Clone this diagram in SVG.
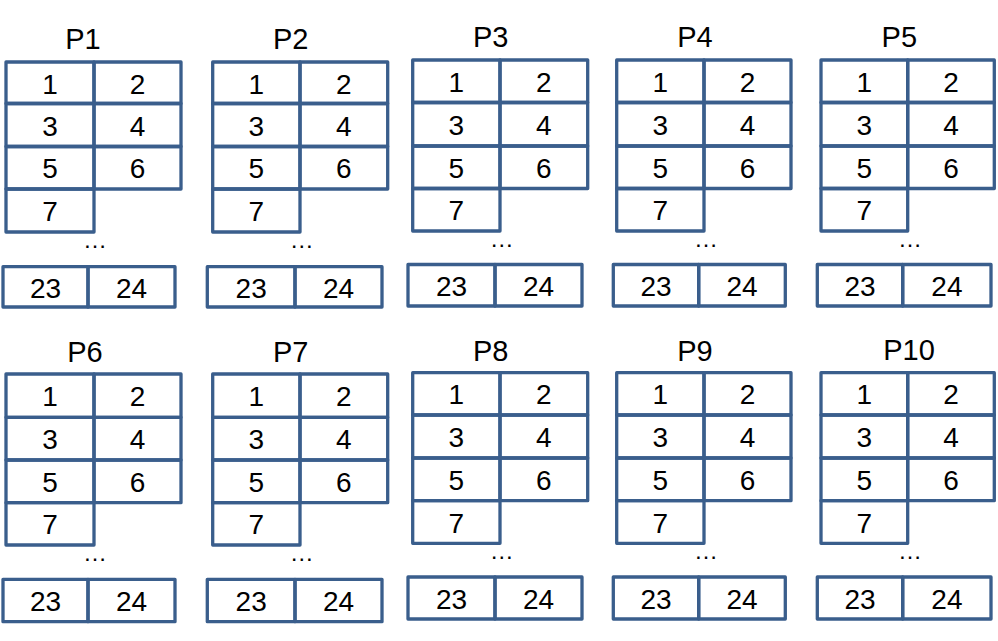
<svg xmlns="http://www.w3.org/2000/svg" width="998" height="641" viewBox="0 0 998 641">
<style>
rect.c{fill:none;stroke:#3A5E8C;stroke-width:3.3;stroke-linejoin:round}
text{font-family:"Liberation Sans",Arial,sans-serif;font-size:28px;fill:#000;text-anchor:middle}
text.t{font-size:29px}
text.d{font-size:24px}
</style>
<rect width="998" height="641" fill="#fff"/>
<g id="P1">
<text class="t" x="83" y="49">P1</text>
<rect class="c" x="6" y="62" width="88" height="41.5"/><rect class="c" x="94" y="62" width="87" height="41.5"/>
<rect class="c" x="6" y="103.5" width="88" height="43"/><rect class="c" x="94" y="103.5" width="87" height="43"/>
<rect class="c" x="6" y="146.5" width="88" height="42.5"/><rect class="c" x="94" y="146.5" width="87" height="42.5"/>
<rect class="c" x="6" y="189" width="88" height="43"/>
<rect class="c" x="3" y="266.7" width="85" height="40.3"/><rect class="c" x="88" y="266.7" width="87" height="40.3"/>
<text x="50" y="93.5">1</text><text x="137.5" y="93.5">2</text>
<text x="50" y="135.5">3</text><text x="137.5" y="135.5">4</text>
<text x="50" y="178.3">5</text><text x="137.5" y="178.3">6</text>
<text x="50" y="221">7</text>
<text class="d" x="95" y="248">…</text>
<text x="45.5" y="297.5">23</text><text x="131.5" y="297.5">24</text>
</g>
<g id="P2">
<text class="t" x="290.7" y="49">P2</text>
<rect class="c" x="212.7" y="62" width="87.3" height="41.5"/><rect class="c" x="300" y="62" width="87.7" height="41.5"/>
<rect class="c" x="212.7" y="103.5" width="87.3" height="43"/><rect class="c" x="300" y="103.5" width="87.7" height="43"/>
<rect class="c" x="212.7" y="146.5" width="87.3" height="42.5"/><rect class="c" x="300" y="146.5" width="87.7" height="42.5"/>
<rect class="c" x="212.7" y="189" width="87.3" height="43"/>
<rect class="c" x="207.3" y="266.7" width="87.7" height="40.3"/><rect class="c" x="295" y="266.7" width="87" height="40.3"/>
<text x="256.4" y="93.5">1</text><text x="343.9" y="93.5">2</text>
<text x="256.4" y="135.5">3</text><text x="343.9" y="135.5">4</text>
<text x="256.4" y="178.3">5</text><text x="343.9" y="178.3">6</text>
<text x="256.4" y="221">7</text>
<text class="d" x="301.7" y="248">…</text>
<text x="251.2" y="297.5">23</text><text x="338.5" y="297.5">24</text>
</g>
<g id="P3">
<text class="t" x="490.7" y="47.3">P3</text>
<rect class="c" x="412.7" y="60" width="87.3" height="42.5"/><rect class="c" x="500" y="60" width="87.7" height="42.5"/>
<rect class="c" x="412.7" y="102.5" width="87.3" height="43.5"/><rect class="c" x="500" y="102.5" width="87.7" height="43.5"/>
<rect class="c" x="412.7" y="146" width="87.3" height="42.5"/><rect class="c" x="500" y="146" width="87.7" height="42.5"/>
<rect class="c" x="412.7" y="188.5" width="87.3" height="42.5"/>
<rect class="c" x="408" y="264.5" width="87" height="41.5"/><rect class="c" x="495" y="264.5" width="87" height="41.5"/>
<text x="456.4" y="91.8">1</text><text x="543.9" y="91.8">2</text>
<text x="456.4" y="134.8">3</text><text x="543.9" y="134.8">4</text>
<text x="456.4" y="177.8">5</text><text x="543.9" y="177.8">6</text>
<text x="456.4" y="220.3">7</text>
<text class="d" x="501.7" y="246.5">…</text>
<text x="451.5" y="295.8">23</text><text x="538.5" y="295.8">24</text>
</g>
<g id="P4">
<text class="t" x="695" y="47.3">P4</text>
<rect class="c" x="616.7" y="60" width="87.3" height="42.5"/><rect class="c" x="704" y="60" width="87" height="42.5"/>
<rect class="c" x="616.7" y="102.5" width="87.3" height="43.5"/><rect class="c" x="704" y="102.5" width="87" height="43.5"/>
<rect class="c" x="616.7" y="146" width="87.3" height="42.5"/><rect class="c" x="704" y="146" width="87" height="42.5"/>
<rect class="c" x="616.7" y="188.5" width="87.3" height="42.5"/>
<rect class="c" x="613.3" y="264.5" width="85.4" height="41.5"/><rect class="c" x="698.7" y="264.5" width="86.6" height="41.5"/>
<text x="660.4" y="91.8">1</text><text x="747.5" y="91.8">2</text>
<text x="660.4" y="134.8">3</text><text x="747.5" y="134.8">4</text>
<text x="660.4" y="177.8">5</text><text x="747.5" y="177.8">6</text>
<text x="660.4" y="220.3">7</text>
<text class="d" x="706" y="246.5">…</text>
<text x="656" y="295.8">23</text><text x="742" y="295.8">24</text>
</g>
<g id="P5">
<text class="t" x="899.3" y="47.3">P5</text>
<rect class="c" x="821" y="60" width="86.7" height="42.5"/><rect class="c" x="907.7" y="60" width="86.6" height="42.5"/>
<rect class="c" x="821" y="102.5" width="86.7" height="43.5"/><rect class="c" x="907.7" y="102.5" width="86.6" height="43.5"/>
<rect class="c" x="821" y="146" width="86.7" height="42.5"/><rect class="c" x="907.7" y="146" width="86.6" height="42.5"/>
<rect class="c" x="821" y="188.5" width="86.7" height="42.5"/>
<rect class="c" x="817.3" y="264.5" width="85.4" height="41.5"/><rect class="c" x="902.7" y="264.5" width="88.3" height="41.5"/>
<text x="864.4" y="91.8">1</text><text x="951" y="91.8">2</text>
<text x="864.4" y="134.8">3</text><text x="951" y="134.8">4</text>
<text x="864.4" y="177.8">5</text><text x="951" y="177.8">6</text>
<text x="864.4" y="220.3">7</text>
<text class="d" x="910" y="246.5">…</text>
<text x="860" y="295.8">23</text><text x="946.9" y="295.8">24</text>
</g>
<g id="P6">
<text class="t" x="85" y="361.7">P6</text>
<rect class="c" x="6" y="374" width="88" height="43.3"/><rect class="c" x="94" y="374" width="87" height="43.3"/>
<rect class="c" x="6" y="417.3" width="88" height="42.7"/><rect class="c" x="94" y="417.3" width="87" height="42.7"/>
<rect class="c" x="6" y="460" width="88" height="42.7"/><rect class="c" x="94" y="460" width="87" height="42.7"/>
<rect class="c" x="6" y="502.7" width="88" height="42.3"/>
<rect class="c" x="3" y="579.3" width="85" height="42.4"/><rect class="c" x="88" y="579.3" width="87" height="42.4"/>
<text x="50" y="406.2">1</text><text x="137.5" y="406.2">2</text>
<text x="50" y="449.2">3</text><text x="137.5" y="449.2">4</text>
<text x="50" y="491.9">5</text><text x="137.5" y="491.9">6</text>
<text x="50" y="534.4">7</text>
<text class="d" x="95" y="560.5">…</text>
<text x="45.5" y="611">23</text><text x="131.5" y="611">24</text>
</g>
<g id="P7">
<text class="t" x="290.7" y="361.7">P7</text>
<rect class="c" x="212.7" y="374" width="87.3" height="43.3"/><rect class="c" x="300" y="374" width="87.7" height="43.3"/>
<rect class="c" x="212.7" y="417.3" width="87.3" height="42.7"/><rect class="c" x="300" y="417.3" width="87.7" height="42.7"/>
<rect class="c" x="212.7" y="460" width="87.3" height="42.7"/><rect class="c" x="300" y="460" width="87.7" height="42.7"/>
<rect class="c" x="212.7" y="502.7" width="87.3" height="42.3"/>
<rect class="c" x="207.3" y="579.3" width="87.7" height="42.4"/><rect class="c" x="295" y="579.3" width="87" height="42.4"/>
<text x="256.4" y="406.2">1</text><text x="343.9" y="406.2">2</text>
<text x="256.4" y="449.2">3</text><text x="343.9" y="449.2">4</text>
<text x="256.4" y="491.9">5</text><text x="343.9" y="491.9">6</text>
<text x="256.4" y="534.4">7</text>
<text class="d" x="301.7" y="560.5">…</text>
<text x="251.2" y="611">23</text><text x="338.5" y="611">24</text>
</g>
<g id="P8">
<text class="t" x="490.7" y="360.7">P8</text>
<rect class="c" x="412.7" y="372.7" width="87.3" height="42.3"/><rect class="c" x="500" y="372.7" width="87.7" height="42.3"/>
<rect class="c" x="412.7" y="415" width="87.3" height="43"/><rect class="c" x="500" y="415" width="87.7" height="43"/>
<rect class="c" x="412.7" y="458" width="87.3" height="42.7"/><rect class="c" x="500" y="458" width="87.7" height="42.7"/>
<rect class="c" x="412.7" y="500.7" width="87.3" height="42.6"/>
<rect class="c" x="408" y="577" width="87" height="42"/><rect class="c" x="495" y="577" width="87" height="42"/>
<text x="456.4" y="404.4">1</text><text x="543.9" y="404.4">2</text>
<text x="456.4" y="447">3</text><text x="543.9" y="447">4</text>
<text x="456.4" y="489.9">5</text><text x="543.9" y="489.9">6</text>
<text x="456.4" y="532.5">7</text>
<text class="d" x="501.7" y="559">…</text>
<text x="451.5" y="608.5">23</text><text x="538.5" y="608.5">24</text>
</g>
<g id="P9">
<text class="t" x="695" y="360.7">P9</text>
<rect class="c" x="616.7" y="372.7" width="87.3" height="42.3"/><rect class="c" x="704" y="372.7" width="87" height="42.3"/>
<rect class="c" x="616.7" y="415" width="87.3" height="43"/><rect class="c" x="704" y="415" width="87" height="43"/>
<rect class="c" x="616.7" y="458" width="87.3" height="42.7"/><rect class="c" x="704" y="458" width="87" height="42.7"/>
<rect class="c" x="616.7" y="500.7" width="87.3" height="42.6"/>
<rect class="c" x="613.3" y="577" width="85.4" height="42"/><rect class="c" x="698.7" y="577" width="86.6" height="42"/>
<text x="660.4" y="404.4">1</text><text x="747.5" y="404.4">2</text>
<text x="660.4" y="447">3</text><text x="747.5" y="447">4</text>
<text x="660.4" y="489.9">5</text><text x="747.5" y="489.9">6</text>
<text x="660.4" y="532.5">7</text>
<text class="d" x="706" y="559">…</text>
<text x="656" y="608.5">23</text><text x="742" y="608.5">24</text>
</g>
<g id="P10">
<text class="t" x="909" y="360">P10</text>
<rect class="c" x="821" y="372.7" width="86.7" height="42.3"/><rect class="c" x="907.7" y="372.7" width="86.6" height="42.3"/>
<rect class="c" x="821" y="415" width="86.7" height="43"/><rect class="c" x="907.7" y="415" width="86.6" height="43"/>
<rect class="c" x="821" y="458" width="86.7" height="42.7"/><rect class="c" x="907.7" y="458" width="86.6" height="42.7"/>
<rect class="c" x="821" y="500.7" width="86.7" height="42.6"/>
<rect class="c" x="817.3" y="577" width="85.4" height="42"/><rect class="c" x="902.7" y="577" width="88.3" height="42"/>
<text x="864.4" y="404.4">1</text><text x="951" y="404.4">2</text>
<text x="864.4" y="447">3</text><text x="951" y="447">4</text>
<text x="864.4" y="489.9">5</text><text x="951" y="489.9">6</text>
<text x="864.4" y="532.5">7</text>
<text class="d" x="910" y="559">…</text>
<text x="860" y="608.5">23</text><text x="946.9" y="608.5">24</text>
</g>
<g id="connectors"></g>
</svg>
